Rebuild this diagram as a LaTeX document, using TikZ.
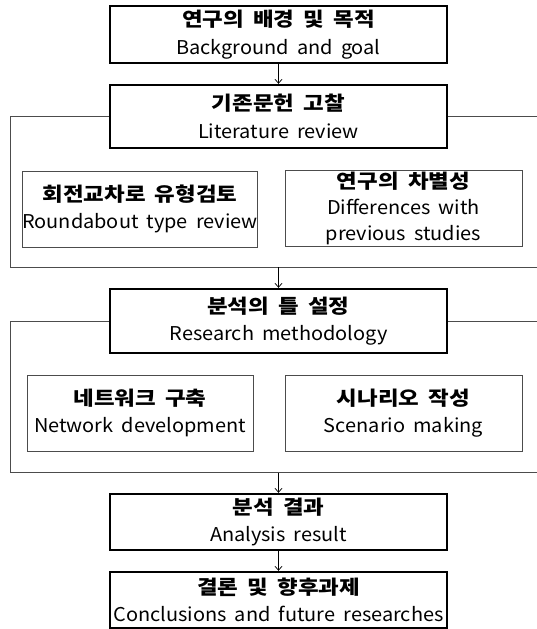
\documentclass[tikz,border=0pt]{standalone}
\usepackage{fontspec}
\setmainfont[WordSpace=1.8,FakeStretch=1.05]{Noto Sans CJK KR}
\newfontfamily\kfont[WordSpace=1.8,FakeStretch=1.15]{Noto Sans CJK KR}
\usetikzlibrary{arrows.meta}
\newcommand\kline[1]{{\kfont\fontsize{19.5}{27}\selectfont\bfseries #1}}
\begin{document}
\begin{tikzpicture}[x=1pt,y=-1pt,
  mainbox/.style={draw=black,line width=2.4pt,minimum width=337pt,align=center,inner sep=0pt,font=\fontsize{19}{27.5}\selectfont},
  subbox/.style={draw=black!70,line width=0.9pt,align=center,inner sep=0pt,minimum height=76pt,font=\fontsize{19}{27}\selectfont},
  frameline/.style={draw=black!70,line width=0.9pt},
  arr/.style={draw=black,line width=0.7pt,-{Straight Barb[length=4pt,width=7pt,line width=0.7pt]}}]
\useasboundingbox (0,0) rectangle (537,629);
% main boxes
\node[mainbox,minimum height=57pt] (b1) at (278.5,34.5) {\kline{연구의 배경 및 목적}\\Background and goal};
\node[mainbox,minimum height=63pt] (b2) at (278.5,116.5) {\kline{기존문헌 고찰}\\Literature review};
\node[mainbox,minimum height=64pt] (b3) at (278.5,321) {\kline{분석의 틀 설정}\\Research methodology};
\node[mainbox,minimum height=56pt] (b4) at (278.5,522) {\kline{분석 결과}\\Analysis result};
\node[mainbox,minimum height=56pt] (b5) at (278.5,600) {\kline{결론 및 향후과제}\\Conclusions and future researches};
% sub boxes
\node[subbox,minimum width=226pt] (s1) at (140,209) {\kline{회전교차로 유형검토}\\Roundabout type review};
\node[subbox,minimum width=237pt,font=\fontsize{19}{26}\selectfont] (s2) at (403.5,208.5) {\kline{연구의 차별성}\\Differences with\\previous studies};
\node[subbox,minimum width=226pt] (s3) at (140,413) {\kline{네트워크 구축}\\Network development};
\node[subbox,minimum width=237pt] (s4) at (403.5,413) {\kline{시나리오 작성}\\Scenario making};
% frames
\coordinate (f1bl) at (10,267);
\coordinate (f1br) at (537,267);
\coordinate (f2bl) at (10,472.5);
\coordinate (f2br) at (537,472.5);
\draw[frameline] (b2.west) -| (f1bl) -- (f1br);
\draw[frameline] (b2.east) -- (b2.east -| f1br);
\draw[frameline] (b3.west) -| (f2bl) -- (f2br);
\draw[frameline] (b3.east) -- (b3.east -| f2br);
% arrows
\draw[arr] (b1.south) -- (b2.north);
\draw[arr] (b2.south |- f1bl) -- (b3.north);
\draw[arr] (b3.south |- f2bl) -- (b4.north);
\draw[arr] (b4.south) -- (b5.north);
\end{tikzpicture}
\end{document}
